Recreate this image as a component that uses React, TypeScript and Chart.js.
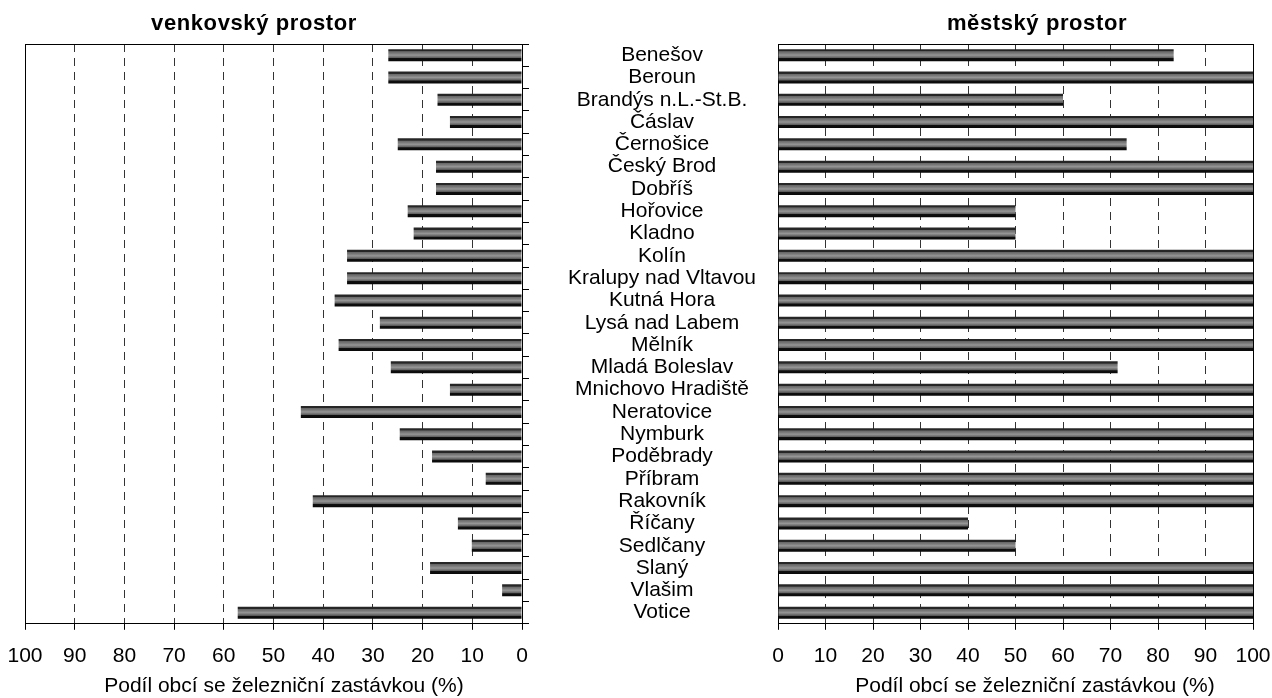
import React, { useEffect, useRef } from "react";
import { Chart, registerables } from "chart.js";

Chart.register(...registerables);

// ---------- data ----------
const categories: string[] = [
  "Benešov",
  "Beroun",
  "Brandýs n.L.-St.B.",
  "Čáslav",
  "Černošice",
  "Český Brod",
  "Dobříš",
  "Hořovice",
  "Kladno",
  "Kolín",
  "Kralupy nad Vltavou",
  "Kutná Hora",
  "Lysá nad Labem",
  "Mělník",
  "Mladá Boleslav",
  "Mnichovo Hradiště",
  "Neratovice",
  "Nymburk",
  "Poděbrady",
  "Příbram",
  "Rakovník",
  "Říčany",
  "Sedlčany",
  "Slaný",
  "Vlašim",
  "Votice",
];

// venkovský prostor (rural), % of municipalities with a railway stop
const ruralShare: number[] = [
  26.9, 26.9, 17.0, 14.5, 25.0, 17.3, 17.3, 23.0, 21.8, 35.2, 35.2, 37.7, 28.6,
  36.9, 26.4, 14.5, 44.5, 24.6, 18.1, 7.3, 42.1, 12.9, 10.1, 18.5, 4.0, 57.2,
];

// městský prostor (urban)
const urbanShare: number[] = [
  83.3, 100, 60, 100, 73.4, 100, 100, 50, 50, 100, 100, 100, 100, 100, 71.5,
  100, 100, 100, 100, 100, 100, 40, 50, 100, 100, 100,
];

const axisMin = 0;
const axisMax = 100;
const tickStep = 10;

const ruralTitle = "venkovský prostor";
const urbanTitle = "městský prostor";
const axisTitle = "Podíl obcí se železniční zastávkou (%)";

// ---------- styling ----------
const FONT = "'Liberation Sans', Arial, Helvetica, sans-serif";
const BAR_PCT = 0.54;

function barFill(context: any): any {
  const chart = context.chart;
  const yScale = chart.scales && chart.scales.y;
  if (!yScale || context.dataIndex === undefined || context.type !== "data") {
    return "#808080";
  }
  const c = yScale.getPixelForValue(context.dataIndex);
  const step = Math.abs(yScale.getPixelForValue(1) - yScale.getPixelForValue(0));
  const h = step * BAR_PCT;
  if (!isFinite(c) || !isFinite(h) || h <= 0) return "#808080";
  const g = chart.ctx.createLinearGradient(0, c - h / 2, 0, c + h / 2);
  g.addColorStop(0.0, "#262626");
  g.addColorStop(0.17, "#262626");
  g.addColorStop(0.2, "#666666");
  g.addColorStop(0.36, "#7c7c7c");
  g.addColorStop(0.5, "#969696");
  g.addColorStop(0.62, "#787878");
  g.addColorStop(0.74, "#585858");
  g.addColorStop(0.77, "#101010");
  g.addColorStop(1.0, "#080808");
  return g;
}

const gridColor = (ctx: any) =>
  ctx.tick && (ctx.tick.value === axisMin || ctx.tick.value === axisMax)
    ? "rgba(0,0,0,0)"
    : "#333333";

function valueAxis(reverse: boolean) {
  return {
    type: "linear" as const,
    position: "bottom" as const,
    min: axisMin,
    max: axisMax,
    reverse,
    afterFit: (scale: any) => {
      scale.paddingLeft = 0;
      scale.paddingRight = 0;
    },
    ticks: {
      stepSize: tickStep,
      font: { family: FONT, size: 21 },
      color: "#000",
      padding: 14,
      maxRotation: 0,
      autoSkip: false,
    },
    grid: {
      display: true,
      color: gridColor,
      lineWidth: 1,
      drawTicks: true,
      tickLength: 6,
      tickColor: "#000",
    },
    border: { display: true, color: "#000", width: 1, dash: [8, 6] },
  };
}

const frameAxis = (axis: "x" | "y", position: string) => ({
  type: "linear" as const,
  axis,
  position,
  display: true,
  ticks: { display: false },
  grid: { display: false, drawTicks: false, tickLength: 0 },
  border: { display: true, color: "#000", width: 1 },
});

function ruralConfig(): any {
  return {
    type: "bar",
    data: {
      labels: categories,
      datasets: [
        {
          label: ruralTitle,
          data: ruralShare,
          xAxisID: "x",
          yAxisID: "y",
          backgroundColor: barFill,
          borderWidth: 0,
          barPercentage: BAR_PCT,
          categoryPercentage: 1,
        },
      ],
    },
    options: {
      indexAxis: "y",
      responsive: false,
      animation: false,
      layout: { padding: { left: 25, right: 11, top: 44, bottom: 15 } },
      plugins: {
        legend: { display: false },
        tooltip: { enabled: false },
        title: { display: false },
      },
      scales: {
        x: valueAxis(true),
        y: {
          type: "category",
          position: "right",
          offset: true,
          ticks: { display: false },
          grid: {
            display: true,
            offset: true,
            drawOnChartArea: false,
            drawTicks: true,
            tickLength: 7,
            color: "#000",
            tickColor: "#000",
          },
          border: { display: true, color: "#000", width: 1 },
        },
        xTop: frameAxis("x", "top"),
        yLeft: frameAxis("y", "left"),
      },
    },
  };
}

function urbanConfig(): any {
  return {
    type: "bar",
    data: {
      labels: categories,
      datasets: [
        {
          label: urbanTitle,
          data: urbanShare,
          xAxisID: "x",
          yAxisID: "y",
          backgroundColor: barFill,
          borderWidth: 0,
          barPercentage: BAR_PCT,
          categoryPercentage: 1,
        },
      ],
    },
    options: {
      indexAxis: "y",
      responsive: false,
      animation: false,
      layout: { padding: { left: 0, right: 19, top: 44, bottom: 15 } },
      plugins: {
        legend: { display: false },
        tooltip: { enabled: false },
        title: { display: false },
      },
      scales: {
        x: valueAxis(false),
        y: {
          type: "category",
          position: "left",
          offset: true,
          afterFit: (scale: any) => {
            scale.width = 218;
          },
          ticks: {
            font: { family: FONT, size: 21 },
            color: "#000",
            crossAlign: "center",
            padding: 22,
            autoSkip: false,
          },
          grid: { display: false, drawTicks: false, tickLength: 0 },
          border: { display: true, color: "#000", width: 1 },
        },
        xTop: frameAxis("x", "top"),
        yRight: frameAxis("y", "right"),
      },
    },
  };
}

const titleStyle = (center: number): React.CSSProperties => ({
  position: "absolute",
  left: center - 160,
  width: 320,
  top: 12,
  textAlign: "center",
  fontFamily: FONT,
  fontWeight: "bold",
  fontSize: 22,
  lineHeight: "22px",
  letterSpacing: "0.6px",
  color: "#000",
  whiteSpace: "nowrap",
});

const axisTitleStyle = (center: number): React.CSSProperties => ({
  position: "absolute",
  left: center - 220,
  width: 440,
  top: 674,
  textAlign: "center",
  fontFamily: FONT,
  fontSize: 21,
  lineHeight: "21px",
  color: "#000",
  whiteSpace: "nowrap",
});

export default function App() {
  const leftRef = useRef<HTMLCanvasElement | null>(null);
  const rightRef = useRef<HTMLCanvasElement | null>(null);

  useEffect(() => {
    if (!leftRef.current || !rightRef.current) return;
    const left = new Chart(leftRef.current, ruralConfig());
    const right = new Chart(rightRef.current, urbanConfig());
    return () => {
      left.destroy();
      right.destroy();
    };
  }, []);

  return (
    <div
      style={{
        position: "absolute",
        left: 0,
        top: 0,
        width: 1272,
        height: 698,
        background: "#fff",
        overflow: "hidden",
      }}
    >
      <canvas
        ref={leftRef}
        width={540}
        height={698}
        style={{ position: "absolute", left: 0, top: 0 }}
      />
      <canvas
        ref={rightRef}
        width={712}
        height={698}
        style={{ position: "absolute", left: 560, top: 0 }}
      />
      <div style={titleStyle(254)}>{ruralTitle}</div>
      <div style={titleStyle(1037)}>{urbanTitle}</div>
      <div style={axisTitleStyle(284)}>{axisTitle}</div>
      <div style={axisTitleStyle(1035)}>{axisTitle}</div>
    </div>
  );
}
